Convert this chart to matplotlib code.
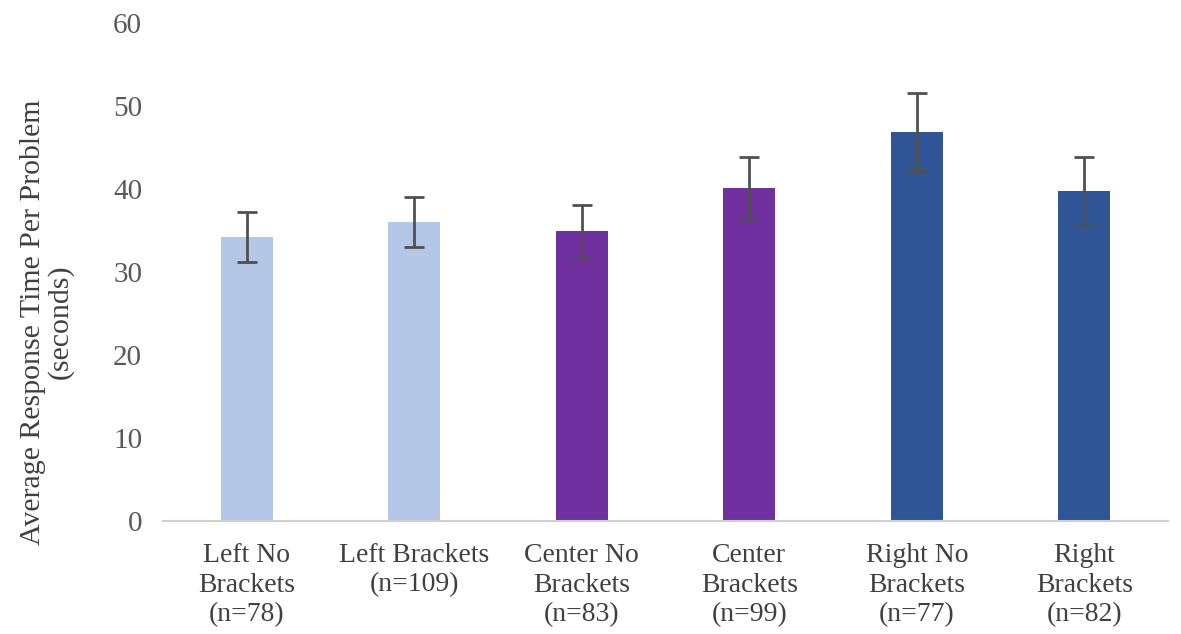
import numpy as np
import matplotlib.pyplot as plt

# data
categories = ['Left No\nBrackets\n(n=78)', 'Left Brackets\n(n=109)', 'Center No\nBrackets\n(n=83)',
              'Center\nBrackets\n(n=99)', 'Right No\nBrackets\n(n=77)', 'Right\nBrackets\n(n=82)']
mean_time = [34.2, 36.0, 34.9, 40.1, 46.8, 39.7]
err_time = [3.0, 3.0, 3.2, 3.8, 4.7, 4.15]
bar_colors = ['#B4C7E7', '#B4C7E7', '#7030A0', '#7030A0', '#2F5597', '#2F5597']

plt.rcParams['font.family'] = ['Liberation Serif', 'DejaVu Serif']

fig = plt.figure(figsize=(11.81, 6.34), dpi=100)
ax = fig.add_axes([0.138, 0.178, 0.851, 0.786])

x = np.arange(len(categories))
ax.bar(x, mean_time, width=0.31, color=bar_colors, zorder=2)
ax.errorbar(x, mean_time, yerr=err_time, fmt='none', ecolor='#505050',
            elinewidth=2, capsize=7, capthick=2, zorder=3)

ax.set_xlim(-0.5, len(categories) - 0.5)
ax.set_ylim(0, 60)
ax.set_yticks(np.arange(0, 61, 10))
ax.set_xticks(x)
ax.set_xticklabels(categories, fontsize=20, color='#404040', linespacing=1.22)
ax.tick_params(axis='y', labelsize=21, colors='#595959', length=0, pad=15)
ax.tick_params(axis='x', length=0, pad=16)

for s in ['top', 'right', 'left']:
    ax.spines[s].set_visible(False)
ax.spines['bottom'].set_color('#D0D0D0')
ax.spines['bottom'].set_linewidth(1.5)

ax.set_ylabel('Average Response Time Per Problem\n(seconds)', fontsize=21.5,
              color='#404040', linespacing=1.05)
ax.yaxis.set_label_coords(-0.089, 0.40)

fig.savefig('out.png', dpi=100)
